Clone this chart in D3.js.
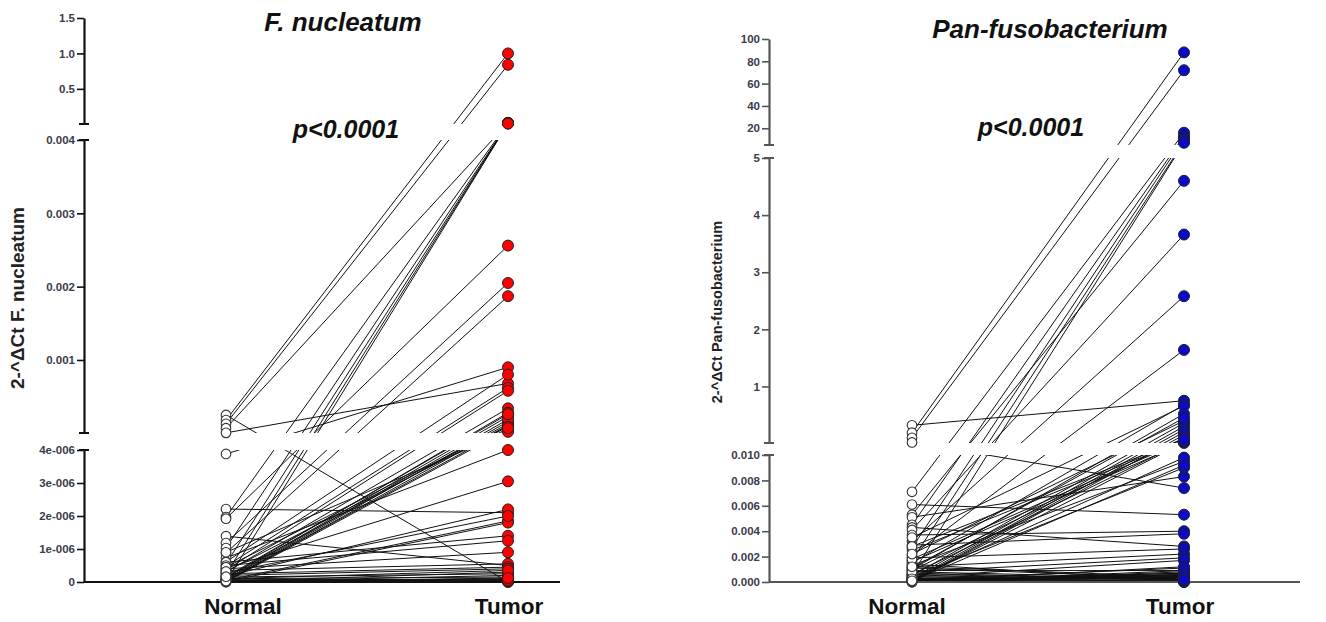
<!DOCTYPE html>
<html><head><meta charset="utf-8">
<title>Fusobacterium paired normal vs tumor</title>
<script src="https://cdn.jsdelivr.net/npm/d3@7"></script>
<style>
  body { margin: 0; background: #fff; }
  svg text { font-family: "Liberation Sans", Arial, sans-serif; }
</style>
</head>
<body>
<svg id="chart" width="1326" height="622"></svg>
<script>
// ---- data (paired by index) ----
const categories = ["Normal", "Tumor"];

// F. nucleatum, 2^-dCt
const fnNormal = [0.00025, 0.00018, 0.00013, 0.00007, 0.000006, 3.88e-6, 2.21e-6, 1.97e-6, 1.92e-6, 1.39e-6,
  1.18e-6, 1.03e-6, 0.88e-6, 0.73e-6, 0.61e-6, 0.55e-6, 0.48e-6, 0.42e-6, 0.36e-6, 0.3e-6,
  0.24e-6, 0.18e-6, 0.12e-6, 0.08e-6, 0.05e-6, 0.03e-6, 0.02e-6, 0.01e-6, 0, 0.6e-6,
  0.5e-6, 0.4e-6, 0.35e-6, 0.25e-6, 0.2e-6, 0.15e-6, 0.1e-6, 0.07e-6, 0.04e-6, 0,
  0.9e-6, 0.45e-6, 0.28e-6, 0.14e-6, 0.06e-6, 0.02e-6, 0.01e-6, 0, 0, 0.32e-6,
  0.05e-6, 0.02e-6, 0.1e-6, 0, 0.03e-6, 0.16e-6];
const fnTumor = [0, 1.0, 0.84, 0.02, 0.00068, 0.0009, 2.1e-6, 0.018, 0.00256, 0.5e-6,
  0.00205, 0.016, 0.00187, 4.0e-6, 0.0008, 0.014, 0.00062, 3.05e-6, 0.00058, 0.00034,
  0.012, 2.2e-6, 0.00028, 0.00023, 1.85e-6, 0.00016, 0.00011, 1.8e-6, 0.00005, 1.4e-6,
  1.25e-6, 0.9e-6, 0.55e-6, 0.45e-6, 0.4e-6, 0.25e-6, 0.15e-6, 0.08e-6, 0.03e-6, 0.01,
  0.00002, 0.0001, 2.0e-6, 0.00013, 0.00019, 0.3e-6, 0.2e-6, 0.1e-6, 0.05e-6, 0.00009,
  0.02e-6, 0.06e-6, 0.35e-6, 0.12e-6, 0.00007, 0.00026];
const fnSegments = [[0, 4e-6], [4e-6, 0.004], [0.004, 1.5]];
const fnTicks = [[0, 1e-6, 2e-6, 3e-6, 4e-6], [0.001, 0.002, 0.003, 0.004], [0.5, 1.0, 1.5]];
const fnTickLabels = [["0", "1e-006", "2e-006", "3e-006", "4e-006"], ["0.001", "0.002", "0.003", "0.004"], ["0.5", "1.0", "1.5"]];

// Pan-fusobacterium, 2^-dCt
const pfNormal = [0.32, 0.19, 0.1, 0.02, 0.0071, 0.0061, 0.0053, 0.0051, 0.0045, 0.0043,
  0.0041, 0.0037, 0.0032, 0.0029, 0.0027, 0.0021, 0.0019, 0.0017, 0.0015, 0.0012,
  0.001, 0.0008, 0.0006, 0.0005, 0.0004, 0.0003, 0.0002, 0.00015, 0.0001, 0.00005,
  0.00002, 0, 0.0011, 0.0009, 0.0007, 0.0025, 0.0014, 0.0006, 0.0003, 0.0001,
  0.0035, 0.0016, 0.0013, 0.0004, 0.0002, 0.00008, 0.00003, 0, 0.0005, 0.0002,
  0.00012, 0.00006, 0.0009, 0, 0.0018, 0.0028, 0.0022, 0.0011,
  0.0003, 0.0001, 0.00004, 0, 0.0006, 0.0002, 0.00001, 0.0004, 0.00007, 0,
  0.0008, 0.00025, 0.0012, 0.00009];
const pfTumor = [0.75, 88, 72, 0.0074, 16, 0.0053, 4.6, 0.0083, 13, 0.0028,
  3.66, 0.004, 2.58, 0.0038, 11, 1.64, 0.0026, 8, 0.68, 0.0022,
  0.52, 0.0019, 7, 0.36, 0.0017, 0.3, 0.0011, 0.25, 0.0007, 0.2,
  0.0005, 0.15, 0.0003, 0.1, 0.0002, 0.06, 0.0001, 0.03, 0.00005, 0,
  0.66, 0.012, 0.0095, 0.009, 0.0098, 0.0092, 0.02, 0.0004, 0.00015, 0.00008,
  0.0006, 0.0012, 0.0009, 0.00002, 0.05, 0.08, 0.4, 0.45,
  0.0005, 0.0003, 0.0006, 0.0008, 0.0002, 0.0004, 0.0001, 0.00025, 0.0007, 0.0009,
  0.0003, 0.0005, 0.0004, 0.0002];
const pfSegments = [[0, 0.01], [0.01, 5], [5, 100]];
const pfTicks = [[0, 0.002, 0.004, 0.006, 0.008, 0.010], [1, 2, 3, 4, 5], [20, 40, 60, 80, 100]];
const pfTickLabels = [["0.000", "0.002", "0.004", "0.006", "0.008", "0.010"], ["1", "2", "3", "4", "5"], ["20", "40", "60", "80", "100"]];

// ---- layout ----
const svg = d3.select("#chart");

const panels = [
  { id: "fn", normal: fnNormal, tumor: fnTumor, domains: fnSegments, ticks: fnTicks, labels: fnTickLabels,
    ranges: [[582, 450], [433, 140], [124, 18]], axisX: 84, xEnd: 560, xRange: [226, 508],
    labelDx: [17, 1], axisColor: "#111", fill: "#ff0000",
    title: "F. nucleatum", titleX: 343, titleY: 31, pX: 346, pY: 138,
    yTitle: "2-^\u0394Ct F. nucleatum", yTitleX: 24, yTitleY: 298, yTitleSize: 19 },
  { id: "pf", normal: pfNormal, tumor: pfTumor, domains: pfSegments, ticks: pfTicks, labels: pfTickLabels,
    ranges: [[582, 455], [443, 158], [145, 39]], axisX: 769, xEnd: 1300, xRange: [912, 1184],
    labelDx: [-5, -4], axisColor: "#555", fill: "#0a0ac8",
    title: "Pan-fusobacterium", titleX: 1050, titleY: 38, pX: 1031, pY: 136,
    yTitle: "2-^\u0394Ct Pan-fusobacterium", yTitleX: 722, yTitleY: 312, yTitleSize: 14.5 }
];

panels.forEach(function(p) {
  let g = svg.append("g");
  let segs = p.domains.map((dom, i) => d3.scaleLinear().domain(dom).range(p.ranges[i]));
  // broken axis: pick the segment a value falls in
  function yPos(v) {
    for (let i = 0; i < segs.length; i++) {
      if (v <= p.domains[i][1] || i == segs.length - 1) return segs[i](v);
    }
  }
  let x = d3.scalePoint().domain(categories).range(p.xRange);

  // lines only show inside the segment bands
  let clip = svg.append("clipPath").attr("id", "clip-" + p.id);
  segs.forEach(function(s) {
    let r = s.range();
    clip.append("rect").attr("x", p.axisX + 1).attr("y", r[1])
        .attr("width", p.xEnd - p.axisX).attr("height", r[0] - r[1]);
  });

  let pairs = d3.range(p.normal.length);
  g.append("g").attr("clip-path", "url(#clip-" + p.id + ")")
    .selectAll("line").data(pairs).join("line")
      .attr("x1", x("Normal")).attr("y1", i => yPos(p.normal[i]))
      .attr("x2", x("Tumor")).attr("y2", i => yPos(p.tumor[i]))
      .attr("stroke", "#111").attr("stroke-width", 1);

  // axes, one per segment
  segs.forEach(function(s, i) {
    let ticks = p.ticks[i], labels = p.labels[i];
    let ax = d3.axisLeft(s).tickValues(ticks)
        .tickFormat(d => labels[ticks.indexOf(d)])
        .tickSize(7).tickSizeOuter(0);
    let ag = g.append("g").attr("transform", "translate(" + p.axisX + ",0)").call(ax);
    ag.select(".domain").attr("stroke", p.axisColor).attr("stroke-width", 2.2);
    ag.selectAll(".tick line").attr("stroke", p.axisColor).attr("stroke-width", 1.6);
    ag.selectAll(".tick text")
        .attr("font-family", "'Liberation Sans', Arial, sans-serif")
        .attr("font-size", 11.5).attr("font-weight", "bold").attr("fill", "#3b3b4a")
        .attr("x", -9);
    // little end caps where the axis is broken
    let r = s.range();
    let ends = [];
    if (i > 0) ends.push(r[0]);
    if (i < segs.length - 1) ends.push(r[1]);
    ends.forEach(function(y) {
      g.append("line").attr("x1", p.axisX - 5).attr("x2", p.axisX + 5)
        .attr("y1", y).attr("y2", y)
        .attr("stroke", p.axisColor).attr("stroke-width", 2);
    });
  });

  // x axis
  let y0 = p.ranges[0][0];
  g.append("line").attr("x1", p.axisX).attr("x2", p.xEnd).attr("y1", y0).attr("y2", y0)
      .attr("stroke", p.axisColor).attr("stroke-width", 2.2);
  g.selectAll(".cat").data(categories).join("text")
      .attr("x", (d, i) => x(d) + p.labelDx[i]).attr("y", 614)
      .attr("text-anchor", "middle").attr("font-size", 22.5).attr("font-weight", "bold")
      .attr("fill", "#111").text(d => d);

  // points
  g.selectAll(".n").data(pairs).join("circle")
      .attr("cx", x("Normal")).attr("cy", i => yPos(p.normal[i])).attr("r", 4.8)
      .attr("fill", "#fff").attr("stroke", "#333").attr("stroke-width", 1.1);
  g.selectAll(".t").data(pairs).join("circle")
      .attr("cx", x("Tumor")).attr("cy", i => yPos(p.tumor[i])).attr("r", 5.5)
      .attr("fill", p.fill).attr("stroke", "#222").attr("stroke-width", 1);

  // titles
  g.append("text").attr("x", p.titleX).attr("y", p.titleY).attr("text-anchor", "middle")
      .attr("font-size", 26).attr("font-weight", "bold").attr("font-style", "italic")
      .attr("fill", "#111").text(p.title);
  g.append("text").attr("x", p.pX).attr("y", p.pY).attr("text-anchor", "middle")
      .attr("font-size", 25).attr("font-weight", "bold").attr("font-style", "italic")
      .attr("fill", "#111").text("p<0.0001");
  g.append("text")
      .attr("transform", "translate(" + p.yTitleX + "," + p.yTitleY + ") rotate(-90)")
      .attr("text-anchor", "middle").attr("font-size", p.yTitleSize).attr("font-weight", "bold")
      .attr("fill", "#222").text(p.yTitle);
});
</script>
</body>
</html>
